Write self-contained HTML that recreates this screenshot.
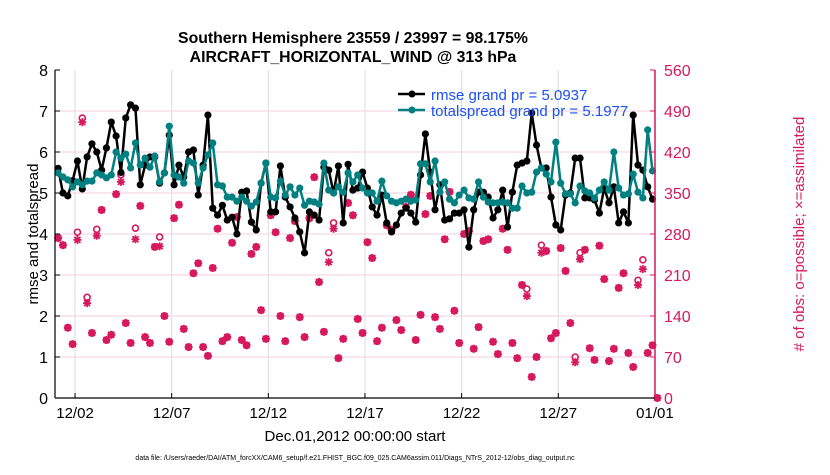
<!DOCTYPE html>
<html><head><meta charset="utf-8"><style>
body{margin:0;background:#fff;}
svg text{font-family:"Liberation Sans",sans-serif;}
</style></head><body>
<svg id="chart" width="830" height="470" viewBox="0 0 830 470" xmlns="http://www.w3.org/2000/svg">
<rect width="830" height="470" fill="#fff"/>
<g id="grid"></g>
<g id="obs"></g>
<g id="series"></g>
<g id="axes"></g>
<text x="353" y="43" text-anchor="middle" font-size="15.8" font-weight="bold">Southern Hemisphere 23559 / 23997 = 98.175%</text>
<text x="353" y="62" text-anchor="middle" font-size="15.8" font-weight="bold">AIRCRAFT_HORIZONTAL_WIND @ 313 hPa</text>
<text transform="translate(38,234) rotate(-90)" text-anchor="middle" font-size="15">rmse and totalspread</text>
<text transform="translate(804,234) rotate(-90)" text-anchor="middle" font-size="15" fill="#d6185c"># of obs: o=possible; ×=assimilated</text>
<text x="355" y="441" text-anchor="middle" font-size="15">Dec.01,2012 00:00:00 start</text>
<text x="355" y="460" text-anchor="middle" font-size="7">data file: /Users/raeder/DAI/ATM_forcXX/CAM6_setup/f.e21.FHIST_BGC.f09_025.CAM6assim.011/Diags_NTrS_2012-12/obs_diag_output.nc</text>
<g>
<g>
<line x1="398" y1="94" x2="425" y2="94" stroke="#000" stroke-width="2.5"/>
<circle cx="412" cy="94" r="3.5" fill="#000"/>
<text x="431" y="100" font-size="15" fill="#1a50f5">rmse grand pr = 5.0937</text>
</g>
<g>
<line x1="398" y1="110" x2="425" y2="110" stroke="#008080" stroke-width="2.5"/>
<circle cx="412" cy="110" r="3.5" fill="#008080"/>
<text x="431" y="116" font-size="15" fill="#1a50f5">totalspread grand pr = 5.1977</text>
</g>
</g>
</svg>
<script>
const rmse = [5.6,5.0,4.93,5.3,5.78,5.1,5.88,6.2,6.0,5.56,6.1,6.73,6.39,5.5,6.83,7.15,7.07,5.2,5.68,5.88,5.88,5.24,5.49,6.41,5.2,5.68,5.39,6.0,6.05,4.95,5.68,6.9,
4.63,4.46,4.7,4.34,4.41,4.0,5.02,5.05,4.29,4.1,5.24,5.73,4.54,4.54,5.66,4.9,4.66,4.39,4.05,3.54,4.54,4.46,4.34,5.63,5.56,5.0,5.66,4.27,5.7,5.07,5.12,
5.51,5.12,4.66,4.46,4.95,4.27,4.05,4.22,4.51,4.63,4.51,4.29,5.44,6.44,5.51,4.59,5.2,4.34,4.37,4.51,4.51,4.59,3.68,4.59,5.02,5.02,4.9,4.39,4.59,5.07,
4.17,5.02,5.68,5.73,5.78,6.95,6.17,5.61,5.61,4.9,4.22,4.1,4.95,5.0,5.85,5.85,4.88,4.88,4.83,4.51,5.12,4.76,5.15,4.27,4.54,4.27,6.9,5.68,5.56,5.15,4.85];
const spread = [5.49,5.39,5.32,5.15,5.27,5.2,5.29,5.29,5.49,5.44,5.37,5.44,6.0,5.85,5.95,5.61,6.22,5.68,5.85,5.63,5.9,5.27,5.49,6.63,5.44,5.39,5.24,5.78,5.73,5.24,5.61,5.93,
6.22,5.2,5.17,4.9,4.9,4.8,4.9,4.8,4.68,4.78,5.24,5.73,4.9,4.88,5.29,4.95,5.15,4.95,5.12,4.7,4.8,4.78,4.73,5.73,5.07,5.0,5.15,5.02,5.49,5.27,5.44,
5.12,5.0,5.0,4.8,5.29,4.93,4.8,4.76,4.8,4.85,4.8,4.83,5.71,5.71,5.27,5.78,5.02,5.27,4.85,4.76,4.95,5.07,4.88,4.85,5.27,4.9,4.78,4.76,4.76,4.78,
4.76,4.63,4.63,5.17,5.0,5.02,5.51,5.61,5.46,5.27,6.24,5.24,4.98,4.98,4.76,5.17,5.05,5.0,4.88,5.07,5.27,5.07,6.0,5.12,4.95,4.98,5.46,5.02,4.88,6.54,5.54];
const obsAssim = [273,261,120,92,270,471,162,111,277,321,99,108,348,369,128,94,271,328,104,94,258,259,140,96,307,330,118,87,213,230,
87,72,222,289,97,104,265,309,99,90,246,258,150,101,312,283,140,97,273,302,138,104,307,377,198,113,232,289,68,101,
333,312,135,111,266,239,97,120,295,287,133,116,326,347,99,142,314,345,138,118,271,352,149,94,280,285,84,121,268,271,
96,75,289,253,94,68,193,174,36,70,248,251,102,111,256,217,128,61,237,253,85,65,260,203,63,84,188,213,77,53,193,220,77,90,0];
const obsPossible = obsAssim.slice();
const possibleDiffIdx = [4,5,6,8,13,16,21,56,57,97,100,107,108,120,121];
const possibleDiffVal = [283,478,172,288,381,290,275,248,299,186,261,70,248,201,236];
const leftTicks = [0,1,2,3,4,5,6,7,8];
const rightTicks = [0,70,140,210,280,350,420,490,560];
const xTickDays = [1,6,11,16,21,26,31];
const xTickLabels = ["12/02","12/07","12/12","12/17","12/22","12/27","01/01"];
const binStart = 0.125, binWidth = 0.25;

possibleDiffIdx.forEach((k,j)=>{obsPossible[k]=possibleDiffVal[j];});
const NS="http://www.w3.org/2000/svg";
const X0=55, X1=655, Y0=398, Y1=70;
const xs = d => 55.7 + d*19.33;
const yl = v => Y0 - (v/8)*(Y0-Y1);
const yr = v => Y0 - (v/560)*(Y0-Y1);
function mk(tag, attrs, parent){const e=document.createElementNS(NS,tag);for(const k in attrs)e.setAttribute(k,attrs[k]);parent.appendChild(e);return e;}
const grid=document.getElementById('grid'), axes=document.getElementById('axes'), obsG=document.getElementById('obs'), ser=document.getElementById('series');

leftTicks.forEach(t=>{
  const y=yl(t);
  if(t>0&&t<8){const g=mk('line',{x1:X0,x2:X1,y1:y,y2:y,stroke:'#f2cfdc','stroke-width':1},grid);
  
  }
  const tk=mk('line',{x1:X0,x2:X0+5,y1:y,y2:y,stroke:'#000'},axes);
  
  
  const tx=mk('text',{x:X0-7,y:y+6,'text-anchor':'end','font-size':16},axes);tx.textContent=t;
  
  
});
rightTicks.forEach(t=>{
  const y=yr(t);
  const tk=mk('line',{x1:X1-5,x2:X1,y1:y,y2:y,stroke:'#d6185c'},axes);
  
  
  const tx=mk('text',{x:X1+9,y:y+6,'font-size':16,fill:'#d6185c'},axes);tx.textContent=t;
  
  
});
xTickDays.forEach((d,i)=>{
  const x=xs(d);
  if(x<X1-1){const g=mk('line',{x1:x,x2:x,y1:Y1,y2:Y0,stroke:'#dcdcdc','stroke-width':1},grid);
  
  }
  const tk=mk('line',{x1:x,x2:x,y1:Y0,y2:Y0-5,stroke:'#000'},axes);
  
  
  const tx=mk('text',{x:x,y:Y0+20,'text-anchor':'middle','font-size':15},axes);tx.textContent=xTickLabels[i];
  
  
});
const la=mk('line',{x1:X0,x2:X0,y1:Y1,y2:Y0,stroke:'#000','stroke-width':1.2},axes);


const ba=mk('line',{x1:X0,x2:X1,y1:Y0,y2:Y0,stroke:'#000','stroke-width':1.2},axes);


const ra=mk('line',{x1:X1,x2:X1,y1:Y1,y2:Y0,stroke:'#d6185c','stroke-width':1.5},axes);



obsPossible.forEach((v,i)=>{
  const x=xs(binStart+i*binWidth), y=yr(v);
  const c=mk('circle',{cx:x,cy:y,r:3,fill:'none',stroke:'#d6185c','stroke-width':1.6},obsG);
  
  
});
obsAssim.forEach((v,i)=>{
  const x=xs(binStart+i*binWidth), y=yr(v), s=4;
  const p=mk('path',{d:`M${x-s},${y}H${x+s}M${x},${y-s}V${y+s}M${x-3},${y-3}L${x+3},${y+3}M${x-3},${y+3}L${x+3},${y-3}`,stroke:'#d6185c','stroke-width':1.8},obsG);
  
  
});

function drawSeries(arr,color,name){
  const pts=arr.map((v,i)=>[xs(binStart+i*binWidth),yl(v)]);
  const pl=mk('polyline',{points:pts.map(p=>p.join(',')).join(' '),fill:'none',stroke:color,'stroke-width':2.5,'stroke-linejoin':'round'},ser);
  
  
  pts.forEach(p=>{
    const c=mk('circle',{cx:p[0],cy:p[1],r:3.6,fill:color},ser);
    
    
  });
}
drawSeries(rmse,'#000','rmse');
drawSeries(spread,'#008080','totalspread');
</script>
</body></html>
